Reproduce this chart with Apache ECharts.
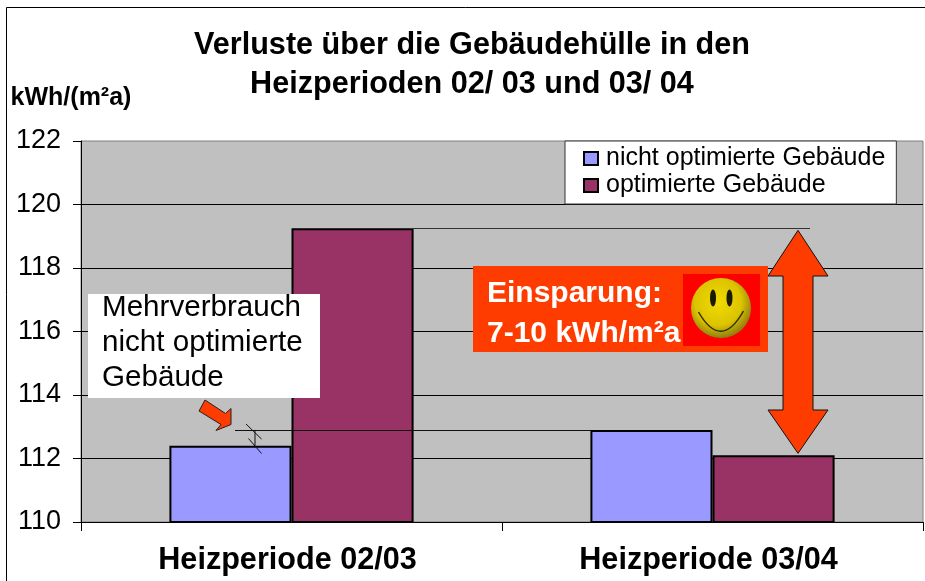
<!DOCTYPE html>
<html>
<head>
<meta charset="utf-8">
<title>Verluste über die Gebäudehülle</title>
<script src="https://cdn.jsdelivr.net/npm/echarts@6/dist/echarts.min.js"></script>
<style>
  html, body { margin: 0; padding: 0; background: #fff; }
  #chart { width: 925px; height: 581px; }
</style>
</head>
<body>
<div id="chart"></div>
<script>
const categories = ["Heizperiode 02/03", "Heizperiode 03/04"];
const nichtOptimiert = [112.4, 112.9];
const optimiert = [119.25, 112.1];
const titleLines = ["Verluste über die Gebäudehülle in den", "Heizperioden 02/ 03 und 03/ 04"];
const calloutLines = ["Mehrverbrauch", "nicht optimierte", "Gebäude"];
const savingLines = ["Einsparung:", "7-10 kWh/m²a"];

const font = '"Liberation Sans", Arial, sans-serif';
const orange = "#ff3c00";

const chart = echarts.init(document.getElementById("chart"));

chart.setOption({
  animation: false,
  backgroundColor: "#fff",
  title: {
    text: titleLines.join("\n"),
    left: 467,
    top: 21,
    textAlign: "center",
    textStyle: { fontFamily: font, fontSize: 30.6, fontWeight: "bold", color: "#000", lineHeight: 39 },
  },
  legend: {
    left: 565,
    top: 141,
    orient: "vertical",
    align: "left",
    padding: [4, 11, 5, 18],
    itemWidth: 14,
    itemHeight: 13,
    itemGap: 0,
    backgroundColor: "#fff",
    borderColor: "#333",
    borderWidth: 1,
    icon: "rect",
    textStyle: { fontFamily: font, fontSize: 25, color: "#000", padding: [0, 0, 0, 3], lineHeight: 27 },
    data: ["nicht optimierte Gebäude", "optimierte Gebäude"],
  },
  grid: {
    left: 81,
    top: 141,
    width: 842,
    height: 381,
    show: true,
    backgroundColor: "#c0c0c0",
    borderColor: "#808080",
    borderWidth: 1,
  },
  xAxis: {
    type: "category",
    data: categories,
    axisLine: { lineStyle: { color: "#000", width: 1 } },
    axisTick: { show: true, alignWithLabel: false, length: 9, lineStyle: { color: "#000" } },
    axisLabel: {
      fontFamily: font,
      fontSize: 30.6,
      fontWeight: "bold",
      color: "#000",
      margin: 23,
      padding: [0, 8, 0, 0],
    },
  },
  yAxis: {
    type: "value",
    min: 110,
    max: 122,
    interval: 2,
    name: "kWh/(m²a)",
    nameLocation: "end",
    nameGap: 30,
    nameTextStyle: { fontFamily: font, fontSize: 25, fontWeight: "bold", color: "#000", padding: [0, 20, 0, 0] },
    axisLine: { show: true, lineStyle: { color: "#000", width: 1 } },
    axisTick: { show: true, length: 8, lineStyle: { color: "#000" } },
    axisLabel: { fontFamily: font, fontSize: 27, color: "#000", margin: 20, padding: [4, 0, 0, 0] },
    splitLine: { show: true, showMinLine: false, showMaxLine: false, lineStyle: { color: "#000", width: 1 } },
  },
  series: [
    {
      name: "nicht optimierte Gebäude",
      type: "bar",
      data: nichtOptimiert,
      barGap: 0,
      barCategoryGap: "42%",
      itemStyle: { color: "#9999ff", borderColor: "#000", borderWidth: 2 },
    },
    {
      name: "optimierte Gebäude",
      type: "bar",
      data: optimiert,
      itemStyle: { color: "#993366", borderColor: "#000", borderWidth: 2 },
    },
  ],
});

// annotations sit on top of the bars, their heights come from the y axis
const yPx = (v) => chart.convertToPixel({ yAxisIndex: 0 }, v);
const yHigh = yPx(optimiert[0]);
const yLow = yPx(optimiert[1]);
const yExtra = yPx(nichtOptimiert[1]);
const yBase = yPx(nichtOptimiert[0]);

function hline(x1, x2, y, color) {
  return { type: "line", z: 50, shape: { x1, y1: y, x2, y2: y }, style: { stroke: color, lineWidth: 1 } };
}
function seg(x1, y1, x2, y2) {
  return { type: "line", z: 52, shape: { x1, y1, x2, y2 }, style: { stroke: "#111", lineWidth: 1 } };
}
function textLines(lines, x, y, step, style) {
  return lines.map((t, i) => ({
    type: "text",
    z: 60,
    x,
    y: y + i * step,
    style: Object.assign({ text: t, fontFamily: font, textVerticalAlign: "middle" }, style),
  }));
}

chart.setOption({
  graphic: [
    // page frame
    { type: "polyline", z: 1, shape: { points: [[6.5, 581], [6.5, 7.5], [925, 7.5]] }, style: { stroke: "#000", fill: null, lineWidth: 1 } },

    // reference lines and the break marks
    hline(385, 810, Math.round(yHigh) + 0.5, "#333"),
    hline(235, 591, Math.round(yExtra) + 0.5, "#111"),
    seg(255, yExtra, 255, yBase),
    seg(246, 424, 261.5, 439),
    seg(248.5, 438.5, 261.5, 453.5),

    // callout box
    { type: "rect", z: 55, shape: { x: 88, y: 294, width: 232, height: 104 }, style: { fill: "#fff" } },
    ...textLines(calloutLines, 102, 307.5, 35, { fontSize: 29.6, fill: "#000" }),

    // small arrow below the callout
    {
      type: "polygon",
      z: 55,
      shape: { points: [[205, 400], [225.5, 413.5], [231, 408.5], [231, 424.5], [216, 430.5], [221, 424.5], [199, 411]] },
      style: { fill: orange, stroke: "#222", lineWidth: 1 },
    },

    // double arrow for the saving
    {
      type: "polygon",
      z: 55,
      shape: {
        points: [
          [798, yHigh + 2], [828, 276], [813, 276], [813, 410], [828, 410],
          [798, yLow - 2], [768, 410], [783, 410], [783, 276], [768, 276],
        ],
      },
      style: { fill: orange, stroke: "#111", lineWidth: 1 },
    },

    // saving box with the smiley
    { type: "rect", z: 55, shape: { x: 473, y: 266, width: 295, height: 86 }, style: { fill: orange } },
    { type: "rect", z: 56, shape: { x: 683, y: 274, width: 77, height: 72 }, style: { fill: "#ff0000" } },
    {
      type: "circle",
      z: 57,
      shape: { cx: 721, cy: 308, r: 30 },
      style: {
        fill: new echarts.graphic.RadialGradient(0.45, 0.4, 0.6, [
          { offset: 0, color: "#f0dc00" },
          { offset: 0.65, color: "#dcc400" },
          { offset: 1, color: "#8f7f10" },
        ]),
      },
    },
    { type: "ellipse", z: 58, shape: { cx: 713, cy: 298, rx: 3, ry: 8.5 }, style: { fill: "#1a1a00" } },
    { type: "ellipse", z: 58, shape: { cx: 729.5, cy: 298, rx: 3, ry: 8.5 }, style: { fill: "#1a1a00" } },
    {
      type: "bezierCurve",
      z: 58,
      shape: { x1: 698.5, y1: 312, x2: 743.5, y2: 311, cpx1: 721, cpy1: 351 },
      style: { stroke: "#332e00", fill: null, lineWidth: 1.5 },
    },
    ...textLines(savingLines, 487, 294, 39.5, { fontSize: 30, fontWeight: "bold", fill: "#fff" }),
  ],
});
</script>
</body>
</html>
